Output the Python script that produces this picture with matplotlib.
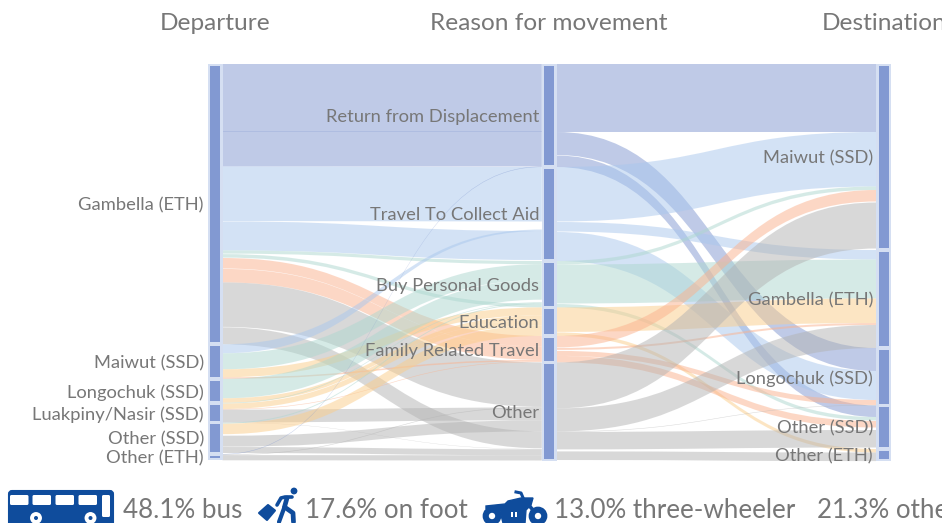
import matplotlib
matplotlib.use("Agg")
import matplotlib.pyplot as plt
from matplotlib.path import Path
from matplotlib.patches import PathPatch, Rectangle, FancyBboxPatch, Circle, Polygon

plt.rcParams['font.family'] = ['Lato', 'DejaVu Sans']

# Node names per column
left_nodes = ["Gambella (ETH)", "Maiwut (SSD)", "Longochuk (SSD)", "Luakpiny/Nasir (SSD)", "Other (SSD)", "Other (ETH)"]
mid_nodes = ["Return from Displacement", "Travel To Collect Aid", "Buy Personal Goods", "Education", "Family Related Travel", "Other"]
right_nodes = ["Maiwut (SSD)", "Gambella (ETH)", "Longochuk (SSD)", "Other (SSD)", "Other (ETH)"]
headers = ["Departure", "Reason for movement", "Destination"]
modes = ["48.1% bus", "17.6% on foot", "13.0% three-wheeler", "21.3% other"]

# Departure -> reason flows. -1 is an empty stretch in a stack, nothing is drawn for it
left_src = [0, 0, 0, 0, 0, 0, 0, 0, 0, 0, 0, 0, 0, 0, 0, 0, 0,
            1, 1, 1, 1, 2, 2, 3, 3, 3, 3, 3,
            4, 4, 4, 4, 4, 4, 4, 5, 5, 5,
            -1, -1, -1, -1, -1, -1]
left_dst = [0, -1, 0, 1, -1, 1, 2, -1, 2, -1, 4, -1, 4, 5, -1, 5, -1,
            1, 2, 3, 4, 2, 3, 2, 3, 4, 5, 5,
            2, 3, -1, 5, -1, 5, -1, 0, 5, 5,
            0, 1, 1, 2, 4, 5]
left_val = [67.5, -0.5, 35.5, 54.5, 0.4, 29, 3.2, 0.5, 3.5, 0.4, 10.5, 0.4, 13.5, 44.5, 0.4, 17, 0,
            9, 16, 8, 1.5, 19.5, 4.5, 0.7, 5.5, 0.6, 12.8, 0.3,
            1, 10.5, 1.5, 11, 0.3, 6, 1, 0.5, 0.6, 5.2,
            -0.5, 8, 1, 2.5, 0.4, 0.7]
left_rank = [1, 0, 3, 1, 0, 4, 1, 0, 7, 0, 1, 0, 2, 1, 0, 5, 0,
             3, 2, 1, 3, 3, 2, 5, 3, 4, 3, 7,
             6, 4, 0, 4, 0, 8, 0, 4, 2, 9,
             2, 2, 5, 4, 5, 6]
# narrower end at the reason column: (link index, width)
left_dst_width = {17: 1.5}

# Reason -> destination flows
right_src = [0, 0, 0, 0, 1, 1, 1, 1, 1, 2, 2, 2, 2, 3, 3, 3,
             4, 4, 4, 4, 4, 4, 5, 5, 5, 5, 5, 5,
             -1, -1, -1, -1, -1]
right_dst = [0, 2, -1, 3, 0, -1, 1, -1, 2, 0, 1, -1, 3, 1, -1, 4,
             0, -1, 1, -1, 2, 3, 0, 1, 2, 3, -1, 4,
             0, 0, 3, 3, 3]
right_val = [68, 23, 0.5, 11.5, 54.5, 0.5, 9.5, 0.5, 29, 3.5, 39, 0.5, 3.5, 24.5, 0.5, 3.5,
             11.5, 0.5, 2, 1, 5, 6.5, 46, 23, 0.5, 17.5, 2, 8.6,
             1, 1.5, 0.5, 2.5, 1.5]
right_rank = [1, 1, 0, 1, 2, 0, 1, 0, 2, 3, 2, 0, 2, 3, 0, 1,
              4, 0, 4, 0, 3, 4, 6, 5, 4, 6, 0, 2,
              5, 7, 3, 5, 7]

# Each link takes its colour from the reason it belongs to
reason_colors = ["#8097d0", "#a9c7ed", "#add7cf", "#fbcd89", "#fbb18d", "#b3b3b3"]
text_color = "#777777"
icon_color = "#0f4c9c"

left_x = (207.5, 222.5)
mid_x = (541.8, 556.8)
right_x = (876.0, 891.0)
top_y = 64.0


def node_sizes(nodes, ends, vals):
    sizes = [0.0] * len(nodes)
    for e, v in zip(ends, vals):
        if e >= 0:
            sizes[e] += v
    return sizes


def tops(sizes):
    out = []
    y = top_y
    for s in sizes:
        out.append(y)
        y += s
    return out


def draw_link(ax, x0, x1, y0, w0, y1, w1, color):
    xm = (x0 + x1) / 2
    verts = [(x0, y0), (xm, y0), (xm, y1), (x1, y1),
             (x1, y1 + w1), (xm, y1 + w1), (xm, y0 + w0), (x0, y0 + w0), (x0, y0)]
    codes = [Path.MOVETO, Path.CURVE4, Path.CURVE4, Path.CURVE4,
             Path.LINETO, Path.CURVE4, Path.CURVE4, Path.CURVE4, Path.CLOSEPOLY]
    ax.add_patch(PathPatch(Path(verts, codes), facecolor=color, edgecolor='none', alpha=0.5, zorder=2))


def draw_column(ax, ax_x, src, dst, vals, ranks, src_tops, dst_tops, colors, dst_width={}, by_dst=True):
    # walk the source side in list order, the target side in rank order
    src_y = list(src_tops)
    start = {}
    for i, s in enumerate(src):
        if s >= 0:
            start[i] = src_y[s]
            src_y[s] += vals[i]
    dst_y = list(dst_tops)
    end = {}
    for i in sorted(range(len(dst)), key=lambda k: ranks[k]):
        d = dst[i]
        if d >= 0:
            end[i] = dst_y[d]
            dst_y[d] += dst_width.get(i, vals[i])
    for i in range(len(vals)):
        if src[i] >= 0 and dst[i] >= 0 and vals[i] != 0:
            c = colors[dst[i]] if by_dst else colors[src[i]]
            draw_link(ax, ax_x[0], ax_x[1], start[i], vals[i], end[i], dst_width.get(i, vals[i]), c)


def draw_nodes(ax, x, names, node_top, sizes, label_x):
    for name, y, h in zip(names, node_top, sizes):
        ax.add_patch(Rectangle((x[0], y), x[1] - x[0], h, facecolor="#d5dff2", edgecolor='none', zorder=3))
        ax.add_patch(Rectangle((x[0] + 2.5, y + 1.8), x[1] - x[0] - 5, h - 3.6, facecolor="#8299d2", edgecolor='none', zorder=4))
        ax.text(label_x, y + h / 2 + 1.5, name, ha='right', va='center', fontsize=13.2, color=text_color, zorder=6)


fig = plt.figure(figsize=(9.42, 5.23), dpi=100)
ax = fig.add_axes([0, 0, 1, 1])
ax.set_xlim(0, 942)
ax.set_ylim(523, 0)
ax.axis('off')

left_sizes = node_sizes(left_nodes, left_src, left_val)
mid_sizes = node_sizes(mid_nodes, left_dst, left_val)
for i, w in left_dst_width.items():
    mid_sizes[left_dst[i]] += w - left_val[i]
right_sizes = node_sizes(right_nodes, right_dst, right_val)

left_tops = tops(left_sizes)
mid_tops = tops(mid_sizes)
right_tops = tops(right_sizes)

# left links are coloured by the reason they go to, right links by the reason they leave
draw_column(ax, (left_x[1], mid_x[0]), left_src, left_dst, left_val, left_rank, left_tops, mid_tops, reason_colors, left_dst_width, True)
draw_column(ax, (mid_x[1], right_x[0]), right_src, right_dst, right_val, right_rank, mid_tops, right_tops, reason_colors, {}, False)

draw_nodes(ax, left_x, left_nodes, left_tops, left_sizes, 204)
draw_nodes(ax, mid_x, mid_nodes, mid_tops, mid_sizes, 539)
draw_nodes(ax, right_x, right_nodes, right_tops, right_sizes, 873)

for h, x in zip(headers, [215, 549, 884]):
    ax.text(x, 24, h, ha='center', va='center', fontsize=17.6, color=text_color)

for m, x in zip(modes, [123, 305, 554, 817]):
    ax.text(x, 518, m, ha='left', va='baseline', fontsize=18.7, color=text_color)

# bus icon
ax.add_patch(FancyBboxPatch((9, 491), 104, 40, boxstyle="round,pad=0,rounding_size=3", facecolor=icon_color, edgecolor=icon_color, lw=1.5, zorder=5))
for wx in [10, 32.5, 55.5, 78.5]:
    ax.add_patch(FancyBboxPatch((wx, 495), 18.5, 10, boxstyle="round,pad=0,rounding_size=1.5", facecolor='white', edgecolor='none', zorder=6))
ax.add_patch(FancyBboxPatch((102, 495), 8, 22, boxstyle="round,pad=0,rounding_size=1.5", facecolor='white', edgecolor='none', zorder=6))
for wx in [36, 90.5]:
    ax.add_patch(Circle((wx, 518), 7, facecolor='white', edgecolor=icon_color, lw=1.5, zorder=7))
    ax.add_patch(Circle((wx, 518), 2, facecolor=icon_color, edgecolor='none', zorder=8))

# walker icon
ax.add_patch(Circle((294, 491), 3.4, facecolor=icon_color, edgecolor='none', zorder=6))
ax.add_patch(Polygon([(259, 513), (268, 505), (275, 510.5), (267, 520)], closed=True, facecolor=icon_color, edgecolor=icon_color, lw=1.5, joinstyle='round', zorder=6))
ax.plot([277, 281, 285, 292], [505, 498, 497, 497], color=icon_color, lw=2.6, solid_capstyle='round', zorder=6)
ax.plot([287, 284.5, 293, 293.5], [498, 507, 513, 522], color=icon_color, lw=3.4, solid_capstyle='round', zorder=6)
ax.plot([284.5, 279], [507, 522], color=icon_color, lw=3.0, solid_capstyle='round', zorder=6)

# motorbike icon
for wx in [492, 538]:
    ax.add_patch(Circle((wx, 516), 6.3, facecolor='white', edgecolor=icon_color, lw=4.4, zorder=6))
ax.add_patch(Polygon([(486, 506), (505, 504), (508, 501), (521, 498), (533, 498), (531, 505), (526, 510), (525, 523), (503, 523), (500, 511), (486, 508.5)],
                     closed=True, facecolor=icon_color, edgecolor=icon_color, lw=1, zorder=5))
ax.plot([516, 521, 524], [492, 493, 500], color=icon_color, lw=2.2, zorder=5)
ax.plot([527, 538], [503, 516], color=icon_color, lw=2.6, zorder=5)
ax.add_patch(Rectangle((511, 512), 1.6, 5, facecolor='white', edgecolor='none', zorder=7))
ax.add_patch(Rectangle((515, 512), 1.6, 5, facecolor='white', edgecolor='none', zorder=7))

fig.savefig("out.png", dpi=100)
